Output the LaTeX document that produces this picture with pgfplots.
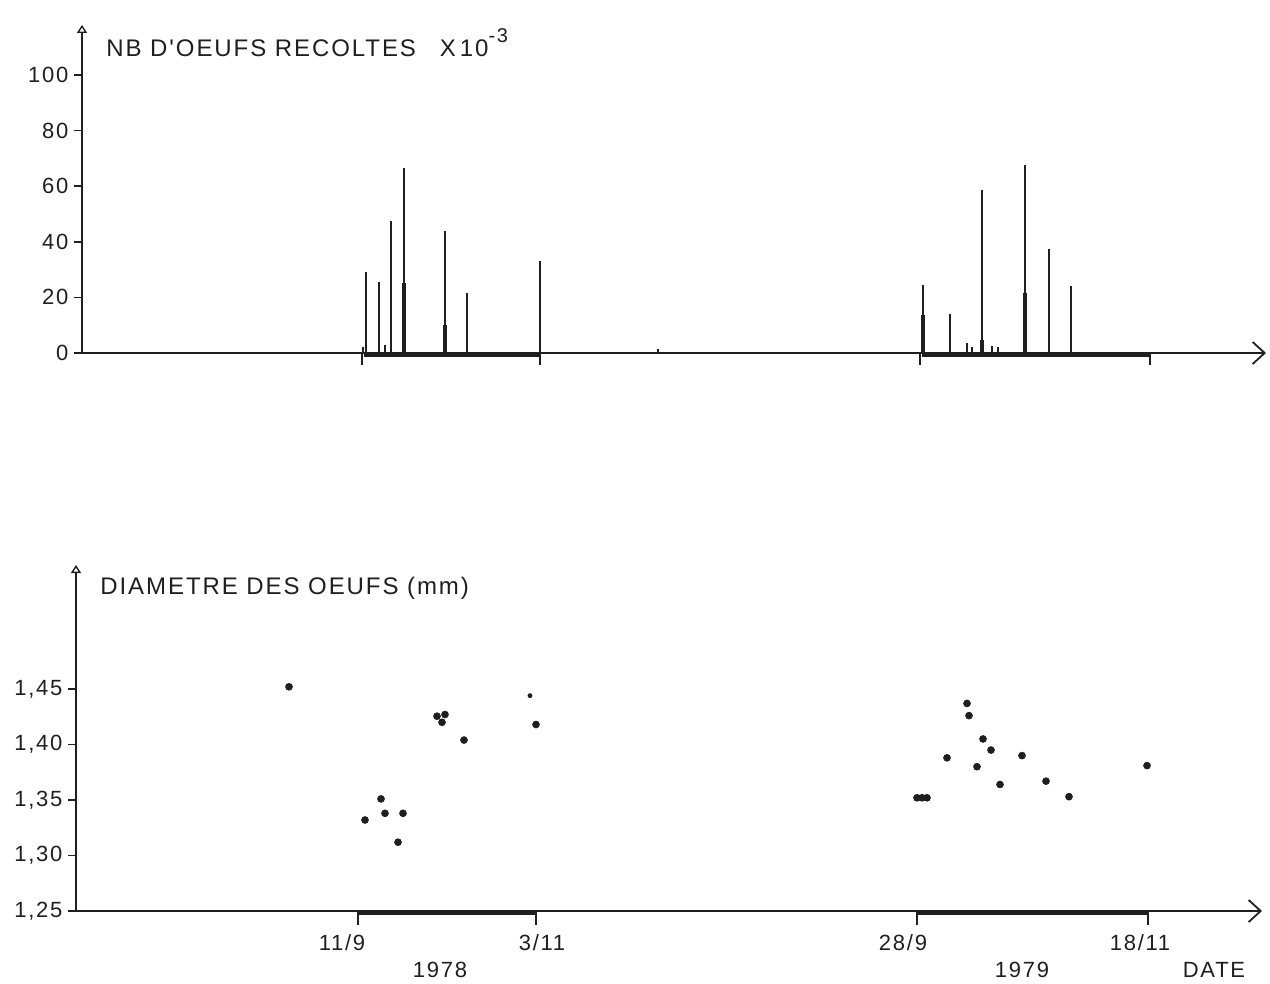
\documentclass[border=0pt]{standalone}
\usepackage{fontspec}
\setmainfont{Liberation Sans}
\newfontfamily\lettering[LetterSpace=8]{Liberation Sans}
\usepackage{pgfplots}
\pgfplotsset{compat=1.18}
\usetikzlibrary{arrows.meta}
\definecolor{ink}{gray}{0.12}
\pgfplotsset{common/.style={
  x=0.5pt, clip=false,
  axis x line*=bottom, axis y line*=left,
  axis line style={line width=0.9pt, ink},
  x axis line style={-{Straight Barb[length=6pt,width=11pt,line width=0.9pt]}},
  y axis line style={-{Triangle[open,length=4pt,width=5pt,line width=0.7pt]}},
  tick align=outside,
  xtick style={/pgfplots/major tick length=6pt, line width=0.8pt, ink},
  ytick style={/pgfplots/major tick length=4pt, line width=0.8pt, ink},
  xticklabels={},
  ticklabel style={font=\lettering\fontsize{11}{11}\selectfont, text=ink},
  /pgf/number format/assume math mode=true,
  yticklabel style={xshift=1pt},
}}
\begin{document}
\begin{tikzpicture}
\useasboundingbox (0,0) rectangle (635pt,-492pt);
% ---------------- top panel ----------------
\begin{axis}[common, at={(41pt,-176.5pt)}, anchor=south west,
  y=1.39pt, xmin=82, xmax=1266, ymin=0, ymax=118,
  xtick={362,540,920,1150},
  ytick={0,20,40,60,80,100}]
\addplot[ycomb, ink, line width=1pt] coordinates {
 (366,29) (379,25.5) (391,47.5) (404,66.5) (445,44) (467,21.6) (540,33)
 (363,2) (385,3)
 (923,24.5) (950,14) (982,58.6) (1025,67.6) (1049,37.4) (1071,24)
 (967,3.5) (972,2) (992,2.5) (998,2) (658,1.5)};
\addplot[ycomb, ink, line width=2pt] coordinates {
 (404,25) (445,10) (923,13.7) (982,4.6) (1025,21.6)};
\addplot[ink, line width=2.4pt] coordinates {(364,-0.4) (540,-0.4)};
\addplot[ink, line width=2.4pt] coordinates {(922,-0.4) (1150,-0.4)};
\node[anchor=west, font=\lettering\fontsize{12}{12}\selectfont, text=ink, inner sep=0pt]
  at (axis cs:106,111.5) {NB D'OEUFS RECOLTES\quad X\,10\raisebox{1.1ex}{\fontsize{10}{10}\selectfont -3}};
\end{axis}
% ---------------- bottom panel ----------------
\begin{axis}[common, at={(38pt,-455.5pt)}, anchor=south west,
  y=555pt, xmin=76, xmax=1262, ymin=1.25, ymax=1.5617,
  xtick={358,536,917,1148},
  ytick={1.25,1.30,1.35,1.40,1.45},
  yticklabels={{1,25},{1,30},{1,35},{1,40},{1,45}},
  xtick style={/pgfplots/major tick length=7pt}]
\addplot[only marks, mark=*, mark size=1.7pt, ink] coordinates {
 (289,1.452) (437,1.4255) (445,1.427) (442,1.420) (464,1.404) (536,1.418)
 (381,1.351) (385,1.338) (403,1.338) (365,1.332) (398,1.312)
 (967,1.437) (969,1.426) (983,1.405) (991,1.395) (947,1.388) (1022,1.390)
 (977,1.380) (1000,1.364) (1046,1.367) (1069,1.353) (1147,1.381)
 (917,1.352) (922,1.352) (927,1.352)};
\addplot[only marks, mark=*, mark size=1pt, ink] coordinates {(530,1.444)};
\addplot[ink, line width=2.4pt] coordinates {(359,1.2482) (536,1.2482)};
\addplot[ink, line width=2.4pt] coordinates {(918,1.2482) (1148,1.2482)};
\node[anchor=west, font=\lettering\fontsize{12}{12}\selectfont, text=ink, inner sep=0pt]
  at (axis cs:100,1.541) {DIAMETRE DES OEUFS (mm)};
\begin{scope}[every node/.style={font=\lettering\fontsize{11}{11}\selectfont, text=ink}]
\node at (axis cs:342,1.2212) {11/9};
\node at (axis cs:542,1.2212) {3/11};
\node at (axis cs:903,1.2212) {28/9};
\node at (axis cs:1140,1.2212) {18/11};
\node at (axis cs:440,1.1968) {1978};
\node at (axis cs:1022,1.1968) {1979};
\node at (axis cs:1214,1.1968) {DATE};
\end{scope}
\end{axis}
\end{tikzpicture}
\end{document}
